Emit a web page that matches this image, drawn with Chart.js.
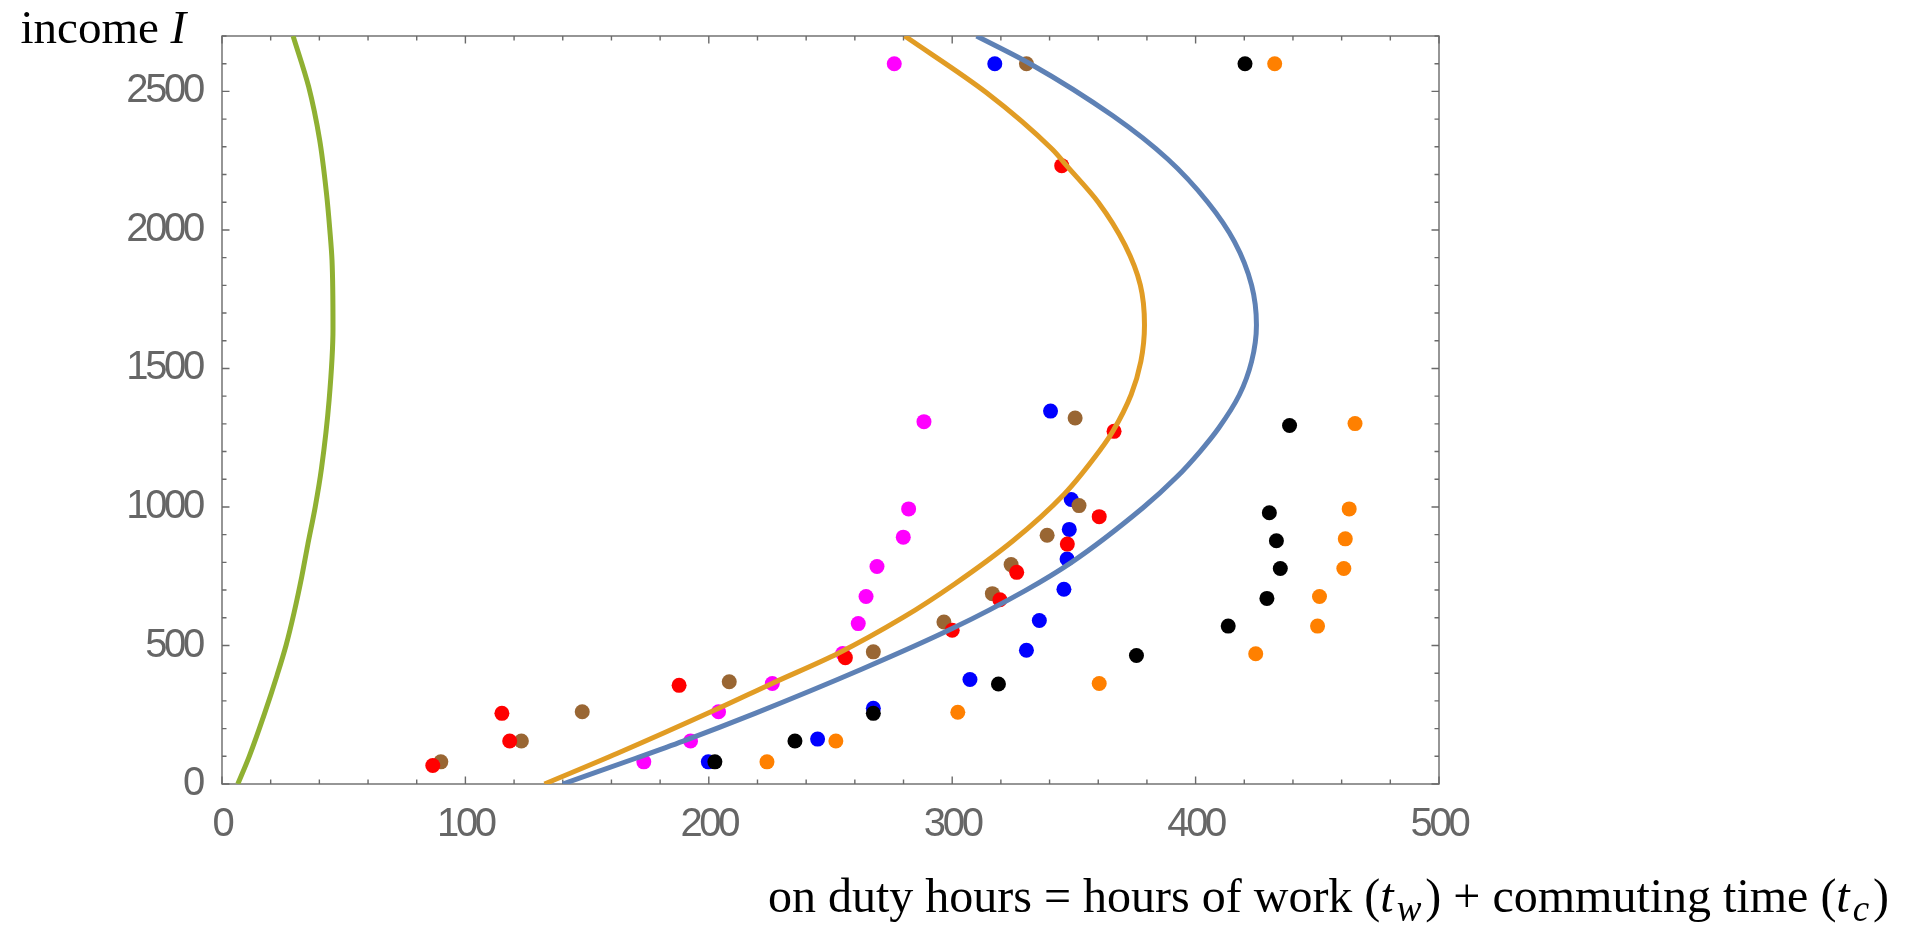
<!DOCTYPE html>
<html><head><meta charset="utf-8">
<script src="https://cdn.jsdelivr.net/npm/chart.js@4/dist/chart.umd.min.js"></script>
<style>html,body{margin:0;padding:0;background:#fff}canvas{display:block}</style>
</head><body>
<canvas id="c" width="1927" height="926"></canvas>
<script>
// ---- axis ticks ----
const xTicks = [0, 100, 200, 300, 400, 500];
const yTicks = [0, 500, 1000, 1500, 2000, 2500];
const xMinorStep = 20;
const yMinorStep = 100;

// ---- observed data (on duty hours, income) ----
const magentaX = [173.3, 192.5, 204, 226.1, 255, 261.4, 264.6, 269.1, 279.9, 282.1, 288.4, 276.2];
const magentaY = [80, 155, 261, 363, 471, 579, 677, 785, 891, 993, 1308, 2600];
const blueX = [199.8, 244.7, 267.6, 307.3, 330.5, 335.8, 345.9, 347.2, 348.1, 348.9, 340.4, 317.5];
const blueY = [80, 162, 273, 377, 483, 590, 703, 812, 919, 1027, 1346, 2600];
const brownX = [89.9, 123, 148, 208.4, 267.6, 296.6, 316.5, 324.2, 339, 352.1, 350.5, 330.5];
const brownY = [80, 155, 261, 369, 477, 585, 687, 792, 898, 1005, 1321, 2600];
const redX = [86.6, 118.2, 115, 187.8, 256.1, 300, 319.6, 326.5, 347.3, 360.4, 366.5, 345];
const redY = [67, 155, 255, 356, 456, 555, 665, 764, 866, 965, 1273, 2232];
const blackX = [202.5, 235.4, 267.6, 319, 375.7, 413.4, 429.3, 434.8, 433.2, 430.3, 438.6, 420.3];
const blackY = [80, 155, 255, 361, 464, 570, 670, 778, 878, 979, 1294, 2600];
const orangeX = [223.9, 252.2, 302.3, 360.4, 424.7, 450.1, 450.9, 460.9, 461.5, 463.1, 465.5, 432.5];
const orangeY = [80, 155, 259, 363, 470, 570, 677, 778, 885, 993, 1301, 2600];

// ---- curves (ordered by income) ----
const greenCurveX = [6.5, 11.2, 17.5, 22.6, 26.3, 29.6, 32.8, 35.2, 38.3, 40.9, 44, 45.6, 45.2, 44.3, 42.9, 40.1, 35.6, 29.2];
const greenCurveY = [0, 100, 255, 392, 500, 618, 750, 862, 1000, 1141, 1385, 1646, 1890, 2000, 2134, 2326, 2517, 2700];
const orangeCurveX = [132.5, 162.5, 202.5, 226, 253, 280, 301, 325, 346, 361, 366, 373.5, 377.5, 379, 377.3, 371, 360, 347, 341, 314, 280.5];
const orangeCurveY = [0, 111, 267, 363, 471, 602, 722, 878, 1046, 1208, 1273, 1405, 1525, 1657, 1801, 1945, 2100, 2232, 2292, 2496, 2700];
const blueCurveX = [140, 170, 189.5, 219, 263, 300, 330, 349, 378.5, 392, 402, 409.5, 418, 423, 425, 423, 416, 405, 388.5, 366, 332, 310];
const blueCurveY = [0, 93, 155, 255, 415, 561, 698, 800, 998, 1106, 1202, 1285, 1405, 1525, 1657, 1801, 1957, 2100, 2256, 2412, 2600, 2700];

const pts = (xs, ys) => xs.map((x, i) => ({x: x, y: ys[i]}));

const FRAME = '#6a6a6a';
const TICKTXT = '#666666';

function scatterSet(label, xs, ys, color, order) {
  return {type: 'scatter', label, data: pts(xs, ys), backgroundColor: color, borderColor: color,
    pointRadius: 7.5, pointBorderWidth: 0, pointHoverRadius: 7.5, order};
}
function curveSet(label, xs, ys, color, order) {
  return {type: 'line', label, data: pts(xs, ys), indexAxis: 'y', borderColor: color, backgroundColor: color,
    borderWidth: 5, pointRadius: 0, cubicInterpolationMode: 'monotone', fill: false, showLine: true, order};
}

const framePlugin = {
  id: 'frame',
  beforeDraw(chart) {
    const c = chart.ctx;
    c.save(); c.fillStyle = '#fff'; c.fillRect(0, 0, chart.width, chart.height); c.restore();
    c.letterSpacing = '-3.3px';
  },
  beforeDatasetsDraw(chart) {
    const c = chart.ctx, a = chart.chartArea, xs = chart.scales.x, ys = chart.scales.y;
    c.save();
    c.letterSpacing = '0px';
    c.strokeStyle = FRAME; c.lineWidth = 1.4;
    c.strokeRect(a.left, a.top, a.right - a.left, a.bottom - a.top);
    c.beginPath();
    for (let v = xs.min; v <= xs.max + 1e-9; v += xMinorStep) {
      const major = xTicks.includes(v);
      const L = major ? 7.5 : 4.5;
      const px = xs.getPixelForValue(v);
      c.moveTo(px, a.bottom); c.lineTo(px, a.bottom - L);
      c.moveTo(px, a.top); c.lineTo(px, a.top + L);
    }
    for (let v = ys.min; v <= ys.max + 1e-9; v += yMinorStep) {
      const major = yTicks.includes(v);
      const L = major ? 7.5 : 4.5;
      const py = ys.getPixelForValue(v);
      c.moveTo(a.left, py); c.lineTo(a.left + L, py);
      c.moveTo(a.right, py); c.lineTo(a.right - L, py);
    }
    c.stroke();
    c.restore();
  },
  afterDraw(chart) {
    const c = chart.ctx;
    c.save();
    c.letterSpacing = '0px';
    c.fillStyle = '#000';
    c.textBaseline = 'alphabetic';
    c.textAlign = 'left';
    const fam = '"Liberation Serif", "Times New Roman", serif';
    function rich(parts, x, y) {
      let cx = x;
      for (const p of parts) {
        c.font = p.f;
        c.fillText(p.t, cx + (p.pre || 0), y + (p.dy || 0));
        cx += (p.pre || 0) + c.measureText(p.t).width + (p.post || 0);
      }
      return cx;
    }
    rich([{t: 'income ', f: '47px ' + fam}, {t: 'I', f: 'italic 47px ' + fam}], 20.5, 42.5);
    const reg = '48px ' + fam, ita = 'italic 48px ' + fam, sub = 'italic 37px ' + fam;
    rich([
      {t: 'on duty hours = hours of work (', f: reg},
      {t: 't', f: ita, post: 3}, {t: 'w', f: sub, dy: 9, post: 4}, {t: ') + commuting time (', f: reg},
      {t: 't', f: ita, post: 3}, {t: 'c', f: sub, dy: 9, post: 4}, {t: ')', f: reg}
    ], 768, 912);
    c.restore();
  }
};

const tickFont = {family: '"Liberation Sans", Arial, sans-serif', size: 40};

new Chart(document.getElementById('c'), {
  type: 'scatter',
  data: {
    datasets: [
      curveSet('blue curve', blueCurveX, blueCurveY, '#5E81B5', 1),
      curveSet('orange curve', orangeCurveX, orangeCurveY, '#E19C24', 2),
      curveSet('green curve', greenCurveX, greenCurveY, '#8FB032', 3),
      scatterSet('orange', orangeX, orangeY, '#FF8000', 5),
      scatterSet('black', blackX, blackY, '#000000', 6),
      scatterSet('red', redX, redY, '#FF0000', 7),
      scatterSet('brown', brownX, brownY, '#996633', 8),
      scatterSet('blue', blueX, blueY, '#0000FF', 9),
      scatterSet('magenta', magentaX, magentaY, '#FF00FF', 10)
    ]
  },
  options: {
    responsive: false,
    animation: false,
    events: [],
    layout: {padding: {left: 0, top: 33, right: 488, bottom: 0}},
    plugins: {legend: {display: false}, tooltip: {enabled: false}, title: {display: false}},
    scales: {
      x: {
        type: 'linear', position: 'bottom', min: 0, max: 500,
        grid: {display: false}, border: {display: false},
        ticks: {font: tickFont, color: TICKTXT, padding: 9, maxRotation: 0, autoSkip: false, callback: v => String(v)},
        afterBuildTicks: s => { s.ticks = xTicks.map(v => ({value: v})); },
        afterFit: s => { s.height = 142; }
      },
      y: {
        type: 'linear', position: 'left', min: 0, max: 2700,
        grid: {display: false}, border: {display: false},
        ticks: {font: tickFont, color: TICKTXT, padding: 12, autoSkip: false, callback: v => String(v)},
        afterBuildTicks: s => { s.ticks = yTicks.map(v => ({value: v})); },
        afterFit: s => { s.width = 222; }
      }
    }
  },
  plugins: [framePlugin]
});
</script>
</body></html>
